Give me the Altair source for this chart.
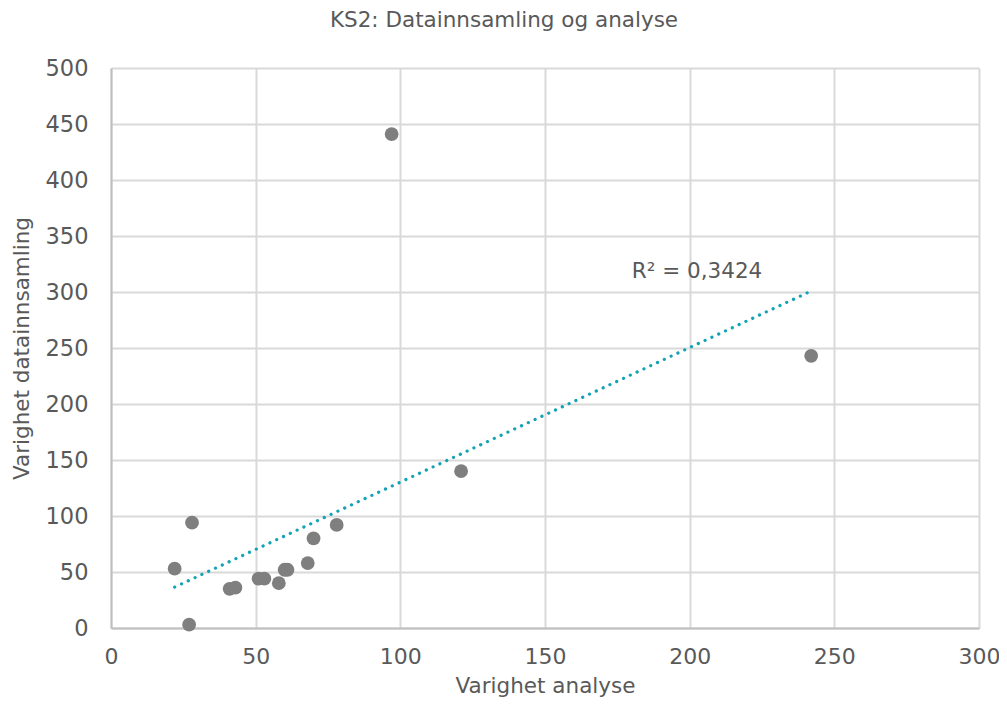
import altair as alt
import pandas as pd

analyse = [22, 27, 28, 41, 43, 51, 53, 58, 60, 61, 68, 70, 78, 97, 121, 242]
datainnsamling = [53, 3, 94, 35, 36, 44, 44, 40, 52, 52, 58, 80, 92, 441, 140, 243]
r2_label = ["R² = 0,3424"]
r2_x = [180]
r2_y = [318]

df = pd.DataFrame({"analyse": analyse, "datainnsamling": datainnsamling})
lab = pd.DataFrame({"x": r2_x, "y": r2_y, "t": r2_label})

FONT = "DejaVu Sans"
TXT = "#595959"

xs = alt.Scale(domain=[0, 300], nice=False, zero=True)
ys = alt.Scale(domain=[0, 500], nice=False, zero=True)

xaxis = alt.Axis(values=[0, 50, 100, 150, 200, 250, 300], title="Varighet analyse",
                 grid=True, gridColor="#d9d9d9", gridWidth=2,
                 domain=True, domainColor="#bfbfbf", domainWidth=2, ticks=False,
                 labelFlush=False,
                 labelFont=FONT, labelFontSize=22, labelColor=TXT, labelPadding=18,
                 titleFont=FONT, titleFontSize=21.5, titleColor=TXT, titleFontWeight="normal",
                 titlePadding=8)
yaxis = alt.Axis(values=[0, 50, 100, 150, 200, 250, 300, 350, 400, 450, 500],
                 title="Varighet datainnsamling",
                 grid=True, gridColor="#d9d9d9", gridWidth=2,
                 domain=True, domainColor="#bfbfbf", domainWidth=2, ticks=False,
                 labelFlush=False,
                 labelFont=FONT, labelFontSize=22.5, labelColor=TXT, labelPadding=23,
                 titleFont=FONT, titleFontSize=21.5, titleColor=TXT, titleFontWeight="normal",
                 titlePadding=12)

base = alt.Chart(df)

pts = base.mark_circle(size=190, color="#7f7f7f", opacity=1).encode(
    x=alt.X("analyse:Q", scale=xs, axis=xaxis),
    y=alt.Y("datainnsamling:Q", scale=ys, axis=yaxis),
)

trend = base.transform_regression("analyse", "datainnsamling", method="linear").mark_line(
    color="#13a3b4", strokeWidth=3.2, strokeDash=[0.1, 7.4], strokeCap="round"
).encode(
    x=alt.X("analyse:Q", scale=xs),
    y=alt.Y("datainnsamling:Q", scale=ys),
)

txt = alt.Chart(lab).mark_text(align="left", baseline="middle", font=FONT, fontSize=21.5,
                               color=TXT).encode(
    x=alt.X("x:Q", scale=xs), y=alt.Y("y:Q", scale=ys), text="t:N")

chart = alt.layer(pts, trend, txt).properties(
    width=868, height=560,
    title=alt.TitleParams("KS2: Datainnsamling og analyse", font=FONT, fontSize=21.5,
                          color=TXT, fontWeight="normal", dx=-41, offset=26),
    autosize=alt.AutoSizeParams(type="none"),
    padding={"left": 103, "top": 60, "right": 20, "bottom": 70},
).configure_view(stroke=None)

chart.save("out.html", embed_options={"renderer": "svg", "actions": False})
